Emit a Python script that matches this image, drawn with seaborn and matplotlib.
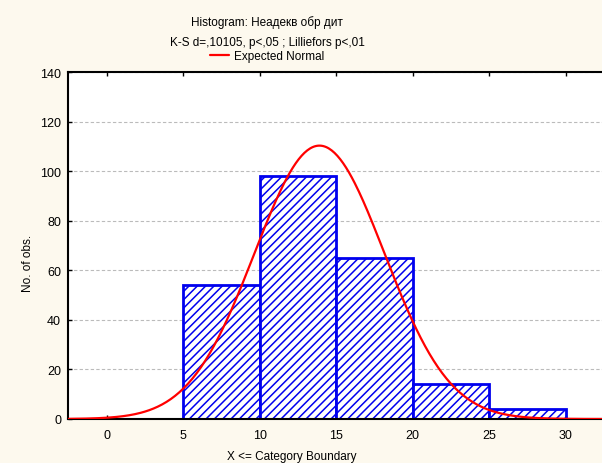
import numpy as np
import pandas as pd
import matplotlib
matplotlib.use("Agg")
import matplotlib.pyplot as plt
import seaborn as sns

# histogram data (upper category boundaries and counts)
bin_edges = [0, 5, 10, 15, 20, 25, 30]
counts = [0, 54, 98, 65, 14, 4]
# fitted normal
fit_mean = 13.9
fit_sd = 4.25

title_1 = "Histogram: Неадекв обр дит"
title_2 = "K-S d=,10105, p<,05 ; Lilliefors p<,01"

sns.set_style("white")
plt.rcParams["font.family"] = ["Liberation Sans", "DejaVu Sans"]
plt.rcParams["hatch.linewidth"] = 1.1
plt.rcParams["text.color"] = "black"
plt.rcParams["xtick.color"] = "black"
plt.rcParams["ytick.color"] = "black"

df = pd.DataFrame({
    "mid": [(a + b) / 2 for a, b in zip(bin_edges[:-1], bin_edges[1:])],
    "n": counts,
})

fig = plt.figure(figsize=(6.02, 4.64), dpi=100, facecolor="#fdf9ee")
ax = fig.add_axes([68 / 602, 1 - 420 / 464, 574 / 602, 347 / 464])
ax.set_facecolor("white")

sns.histplot(data=df, x="mid", weights="n", bins=bin_edges, ax=ax,
             stat="count", element="bars", fill=True, zorder=2)
for p in ax.patches:
    p.set_facecolor("white")
    p.set_edgecolor("#0000ee")
    p.set_linewidth(2.0)
    p.set_hatch("////")

total = sum(counts)
width = bin_edges[1] - bin_edges[0]
xs = np.linspace(-2.5, 35, 400)
ys = total * width * np.exp(-0.5 * ((xs - fit_mean) / fit_sd) ** 2) / (fit_sd * np.sqrt(2 * np.pi))
sns.lineplot(x=xs, y=ys, color="red", linewidth=1.6, ax=ax, label="Expected Normal", zorder=3)

ax.set_xlim(-2.55, 35)
ax.set_ylim(0, 140)
ax.set_xticks(range(0, 31, 5))
ax.set_yticks(range(0, 141, 20))
ax.tick_params(axis="both", labelsize=9, direction="in", length=3, width=1,
               top=True, bottom=True, left=True, color="black", labelcolor="black")
ax.tick_params(axis="x", pad=7)
ax.tick_params(axis="y", pad=5)
ax.yaxis.grid(True, linestyle=(0, (3, 2)), color="#bbbbbb", linewidth=0.8)
ax.set_axisbelow(True)
for s in ax.spines.values():
    s.set_color("black")
    s.set_linewidth(1.5)
ax.set_xlabel("")
ax.set_ylabel("")

fig.text(28 / 602, 1 - 263 / 464, "No. of obs.", rotation=90, ha="center", va="center", fontsize=8.5)
fig.text(292 / 602, 1 - 457 / 464, "X <= Category Boundary", ha="center", va="center", fontsize=8.5)
fig.text(267 / 602, 1 - 23 / 464, title_1, ha="center", va="center", fontsize=8.5)
fig.text(267 / 602, 1 - 43 / 464, title_2, ha="center", va="center", fontsize=8.5)

ax.legend(loc="center", bbox_to_anchor=(267 / 602, 1 - 57 / 464), bbox_transform=fig.transFigure,
          frameon=False, fontsize=8.5, handlelength=1.6, handletextpad=0.4,
          borderpad=0, borderaxespad=0)

fig.savefig("out.png", dpi=100, facecolor=fig.get_facecolor())
